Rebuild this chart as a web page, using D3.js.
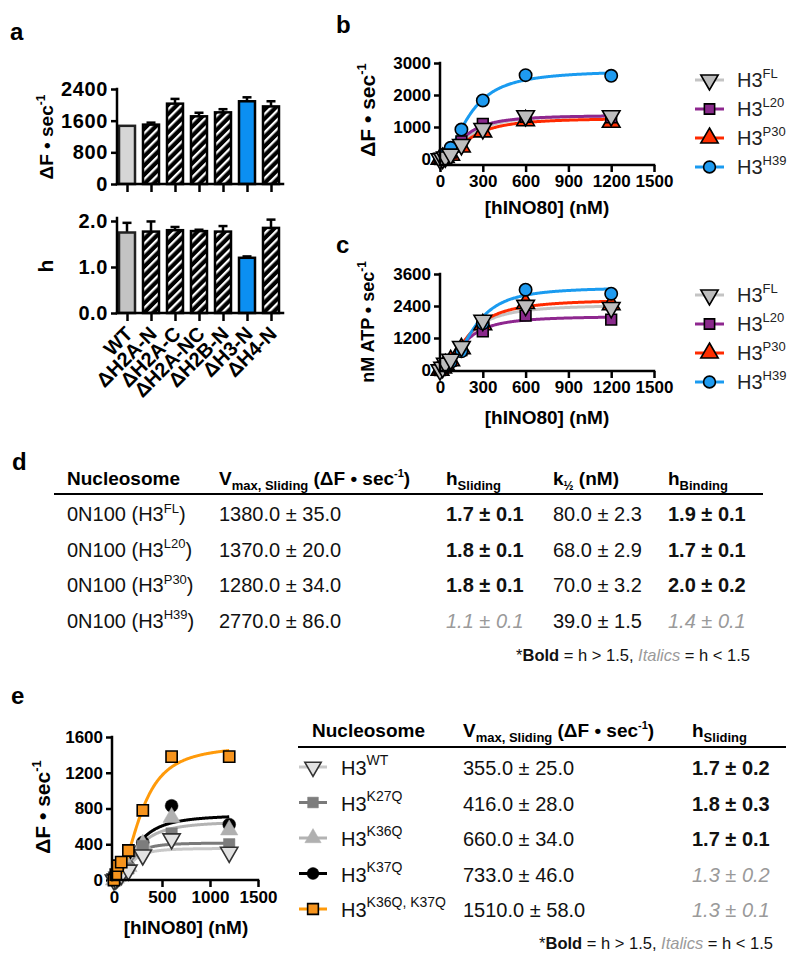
<!DOCTYPE html>
<html><head><meta charset="utf-8">
<script src="https://cdn.jsdelivr.net/npm/d3@7"></script>
<style>body{margin:0;background:#fff} svg{display:block} text{font-family:"Liberation Sans",Arial,sans-serif}</style>
</head><body><svg id="c" width="800" height="963"></svg>
<script>
// ---------- DATA ----------
// panel a
const catsA = ["WT","ΔH2A-N","ΔH2A-C","ΔH2A-NC","ΔH2B-N","ΔH3-N","ΔH4-N"];
const vmaxA = [1470,1500,2030,1710,1810,2090,1960];
const vmaxErrA = [0,50,120,90,80,100,130];
const hA = [1.75,1.77,1.80,1.78,1.77,1.20,1.85];
const hErrA = [0.21,0.22,0.07,0.03,0.12,0.03,0.18];
const styleA = ["wt","hatch","hatch","hatch","hatch","blue","hatch"];
const ticksAtop = [0,800,1600,2400];
const ticksAbot = [0,1,2];
// panels b, c
const conc = [0,18.75,37.5,75,150,300,600,1200];
const seriesBC = ["FL","L20","P30","H39"];
const bFL  = [0,20,60,150,450,950,1350,1350];
const bL20 = [0,30,80,200,550,1100,1320,1300];
const bP30 = [0,20,50,120,380,850,1200,1150];
const bH39 = [0,60,150,350,920,1830,2620,2600];
const cFL  = [0,100,250,400,880,1860,2420,2340];
const cL20 = [0,100,200,350,750,1450,2040,1890];
const cP30 = [0,80,200,350,800,1700,2500,2450];
const cH39 = [0,80,180,300,700,1750,3010,2860];
const fitB_V = [1380,1370,1280,2770], fitB_K = [195,170,210,209], fitB_h = [2,2,2,2];
const fitC_V = [2450,2020,2650,3100], fitC_K = [190,170,205,235], fitC_h = [2,2,2,2.4];
const ticksBx = [0,300,600,900,1200,1500];
const ticksBy = [0,1000,2000,3000];
const ticksCy = [0,1200,2400,3600];
// table d
const dSup = ["FL","L20","P30","H39"];
const dVmax = [1380,1370,1280,2770], dVmaxErr = [35,20,34,86];
const dHs = [1.7,1.8,1.8,1.1], dHsErr = [0.1,0.1,0.1,0.1];
const dK = [80,68,70,39], dKErr = [2.3,2.9,3.2,1.5];
const dHb = [1.9,1.7,2.0,1.4], dHbErr = [0.1,0.1,0.2,0.1];
// panel e
const eSup = ["WT","K27Q","K36Q","K37Q","K36Q, K37Q"];
const eWT   = [0,10,30,60,110,280,460,310];
const eK27Q = [0,20,40,70,130,380,520,400];
const eK36Q = [0,20,40,80,150,400,700,560];
const eK37Q = [0,20,40,80,150,420,830,620];
const eDbl  = [0,60,160,200,330,780,1380,1380];
const eVmax = [355,416,660,733,1510], eVmaxErr = [25,28,34,46,58];
const eH = [1.7,1.8,1.7,1.3,1.3], eHErr = [0.2,0.3,0.1,0.2,0.1];
const fitE_K = [170,170,230,230,285], fitE_h = [2.5,2.5,2,2,2.2];
const ticksEx = [0,500,1000,1500];
const ticksEy = [0,400,800,1200,1600];

// ---------- HELPERS ----------
const svg = d3.select("#c");
const AX = 2.5;
const fmtInt = d3.format("d");
function hill(V,K,h){ return x => V*Math.pow(x,h)/(Math.pow(K,h)+Math.pow(x,h)); }
function rich(g, x, y, parts, opt={}){
  const t = g.append("text").attr("x",x).attr("y",y)
    .attr("font-size",opt.size||16).attr("font-weight",opt.weight||"normal")
    .attr("fill",opt.fill||"#000").attr("text-anchor",opt.anchor||"start");
  if(opt.transform) t.attr("transform",opt.transform);
  let cur = 0;
  parts.forEach(p=>{
    if(typeof p==="string") p={t:p};
    const shift = p.sup ? -(p.shiftAmt||0.42)*(opt.size||16) : p.sub ? 0.28*(opt.size||16) : 0;
    const ts = t.append("tspan").text(p.t).attr("dy", shift-cur);
    cur = shift;
    if(p.size) ts.attr("font-size",p.size);
    if(p.weight) ts.attr("font-weight",p.weight);
    if(p.style) ts.attr("font-style",p.style);
    if(p.fill) ts.attr("fill",p.fill);
  });
  return t;
}
function panelLabel(t,x,y){ svg.append("text").attr("x",x).attr("y",y).attr("font-size",24).attr("font-weight","bold").text(t); }
function styleAxis(sel, fs){
  sel.select(".domain").remove();
  sel.selectAll(".tick line").attr("stroke","#000").attr("stroke-width",AX);
  sel.selectAll(".tick text").attr("font-size",fs).attr("font-weight","bold").attr("fill","#000")
     .attr("font-family","Liberation Sans, Arial, sans-serif");
}
function line(x1,y1,x2,y2,w){ svg.append("line").attr("x1",x1).attr("y1",y1).attr("x2",x2).attr("y2",y2).attr("stroke","#000").attr("stroke-width",w||AX).attr("stroke-linecap","square"); }
function marker(g, shape, x, y, fill, stroke, size, sw){
  const types = {circle:d3.symbolCircle, square:d3.symbolSquare, up:d3.symbolTriangle, down:d3.symbolTriangle};
  g.append("path").attr("d", d3.symbol().type(types[shape]).size(size)())
   .attr("transform",`translate(${x},${y})${shape==="down"?" rotate(180)":""}`)
   .attr("fill",fill).attr("stroke",stroke).attr("stroke-width",sw==null?1.6:sw);
}

// defs
const defs = svg.append("defs");
const pat = defs.append("pattern").attr("id","hatch").attr("patternUnits","userSpaceOnUse")
  .attr("width",6.5).attr("height",6.5).attr("patternTransform","rotate(45)");
pat.append("rect").attr("width",6.5).attr("height",6.5).attr("fill","#000");
pat.append("rect").attr("width",2.3).attr("height",6.5).attr("fill","#fff");

const BLUE = "#0b8ff2";

// ---------- PANEL a ----------
panelLabel("a",10,40);
const xA = d3.scalePoint().domain(catsA).range([127,271]);
const yAt = d3.scaleLinear().domain([0,2400]).range([184,89]);
const yAb = d3.scaleLinear().domain([0,2]).range([313,221]);
function barPanel(vals, errs, yS, ticks, fmt, wtFill, baseY, topY){
  const g = svg.append("g");
  const ya = g.append("g").attr("transform","translate(117,0)")
    .call(d3.axisLeft(yS).tickValues(ticks).tickSize(6).tickSizeOuter(0).tickPadding(3).tickFormat(fmt));
  styleAxis(ya, 20);
  ya.selectAll(".tick text").attr("letter-spacing",0.6);
  const xa = g.append("g").attr("transform",`translate(0,${baseY})`)
    .call(d3.axisBottom(xA).tickSize(8).tickSizeOuter(0).tickFormat(""));
  styleAxis(xa, 1);
  catsA.forEach((c,i)=>{
    const cx = xA(c), v = vals[i], e = errs[i];
    if(e>0){
      g.append("line").attr("x1",cx).attr("x2",cx).attr("y1",yS(v)).attr("y2",yS(v+e)).attr("stroke","#000").attr("stroke-width",2.5);
      g.append("line").attr("x1",cx-4.5).attr("x2",cx+4.5).attr("y1",yS(v+e)).attr("y2",yS(v+e)).attr("stroke","#000").attr("stroke-width",2.5);
    }
    const f = styleA[i]==="wt" ? wtFill : styleA[i]==="blue" ? BLUE : "url(#hatch)";
    g.append("rect").attr("x",cx-8).attr("y",yS(v)).attr("width",16).attr("height",yS(0)-yS(v))
      .attr("fill",f).attr("stroke",styleA[i]==="wt"?"#222":"#000").attr("stroke-width",2.5);
  });
  line(117,baseY,283,baseY);
  line(117,topY,117,baseY);
  return g;
}
barPanel(vmaxA, vmaxErrA, yAt, ticksAtop, fmtInt, "#d6d6d6", 184, 89);
barPanel(hA, hErrA, yAb, ticksAbot, d3.format(".1f"), "#c3c3c3", 313, 218);
rich(svg, 0, 0, [{t:"ΔF • sec"},{t:"-1",sup:true,size:12}], {size:19,weight:"bold",anchor:"middle",transform:"translate(53,137) rotate(-90)"});
svg.append("text").attr("transform","translate(53,266) rotate(-90)").attr("text-anchor","middle")
  .attr("font-size",21).attr("font-weight","bold").text("h");
catsA.forEach(c=>{
  const x = xA(c)+7, y = 335;
  svg.append("text").attr("x",x).attr("y",y).attr("text-anchor","end").attr("font-size",20).attr("font-weight","bold")
    .attr("transform",`rotate(-45,${x},${y})`).text(c);
});

// ---------- PANELS b, c ----------
const colBC = {FL:{line:"#c4c4c4",fill:"#bdbdbd",shape:"down"},
               L20:{line:"#8e278f",fill:"#8a2a8c",shape:"square"},
               P30:{line:"#ff2a00",fill:"#ff2f00",shape:"up"},
               H39:{line:"#1a9bf0",fill:"#1f9bf0",shape:"circle"}};
const xB = d3.scaleLinear().domain([0,1500]).range([440,654]);
function xyPanel(dataArrs, fitV, fitK, fitH, yS, yTicks, axisY, topY, ylabel, ylabSize, ylabX, ylabY, xlabY, legY, errs){
  const g = svg.append("g");
  const ya = g.append("g").attr("transform","translate(440,0)")
    .call(d3.axisLeft(yS).tickValues(yTicks).tickSize(6).tickSizeOuter(0).tickPadding(3).tickFormat(fmtInt));
  styleAxis(ya,17);
  const xa = g.append("g").attr("transform",`translate(0,${axisY})`)
    .call(d3.axisBottom(xB).tickValues(ticksBx).tickSize(7).tickSizeOuter(0).tickPadding(3).tickFormat(fmtInt));
  styleAxis(xa,17);
  line(440,topY,440,axisY); line(440,axisY,654,axisY);
  const xs = d3.range(0,1200.1,5);
  const ln = d3.line().x(d=>xB(d[0])).y(d=>yS(d[1]));
  [0,1,2,3].forEach(i=>{
    const f = hill(fitV[i],fitK[i],fitH[i]);
    g.append("path").attr("d",ln(xs.map(x=>[x,f(x)]))).attr("fill","none")
      .attr("stroke",colBC[seriesBC[i]].line).attr("stroke-width",3);
  });
  [2,1,3,0].forEach(i=>{
    const s = seriesBC[i], c = colBC[s];
    dataArrs[i].forEach((v,j)=>{
      if(errs && errs[i] && errs[i][j]){
        const e=errs[i][j];
        g.append("line").attr("x1",xB(conc[j])).attr("x2",xB(conc[j])).attr("y1",yS(v-e)).attr("y2",yS(v+e)).attr("stroke","#000").attr("stroke-width",1.5);
        [v-e,v+e].forEach(w=>g.append("line").attr("x1",xB(conc[j])-4).attr("x2",xB(conc[j])+4).attr("y1",yS(w)).attr("y2",yS(w)).attr("stroke","#000").attr("stroke-width",1.5));
      }
      marker(g, c.shape, xB(conc[j]), yS(v), c.fill, "#000", c.shape==="circle"?120:c.shape==="square"?115:135, 1.6);
    });
  });
  rich(svg,0,0,ylabel,{size:ylabSize,weight:"bold",anchor:"middle",transform:`translate(${ylabX},${ylabY}) rotate(-90)`});
  svg.append("text").attr("x",547).attr("y",xlabY).attr("text-anchor","middle").attr("font-size",19).attr("font-weight","bold").text("[hINO80] (nM)");
  seriesBC.forEach((s,i)=>{
    const y = legY + i*29, c = colBC[s];
    svg.append("line").attr("x1",695).attr("x2",724).attr("y1",y).attr("y2",y).attr("stroke",c.line).attr("stroke-width",3);
    marker(svg, c.shape, 709.5, y, c.fill, "#000", c.shape==="circle"?110:c.shape==="square"?105:130, 1.6);
    rich(svg,737,y+7,[{t:"H3"},{t:s,sup:true,size:13,shiftAmt:0.45}],{size:20,fill:"#222"});
  });
}
panelLabel("b",336,33);
const yB = d3.scaleLinear().domain([0,3000]).range([159,63]);
xyPanel([bFL,bL20,bP30,bH39], fitB_V, fitB_K, fitB_h, yB, ticksBy, 165, 63,
  [{t:"ΔF • sec"},{t:"-1",sup:true,size:13}], 21, 375, 110, 214, 80, [null,null,null,[0,0,0,0,80,130,0,0]]);
panelLabel("c",336,253);
const yC = d3.scaleLinear().domain([0,3600]).range([370,274]);
xyPanel([cFL,cL20,cP30,cH39], fitC_V, fitC_K, fitC_h, yC, ticksCy, 371, 274,
  [{t:"nM ATP • sec"},{t:"-1",sup:true,size:12}], 18, 374, 322, 424, 295, null);

// ---------- TABLE d ----------
panelLabel("d",12,470);
const fx = v=>v.toFixed(1);
const dCols = [67,219,446,553,668];
const HS = 19;
rich(svg,dCols[0],485,["Nucleosome"],{size:HS,weight:"bold"});
rich(svg,dCols[1],485,[{t:"V"},{t:"max, Sliding",sub:true,size:13},{t:" (ΔF • sec"},{t:"-1",sup:true,size:11},{t:")"}],{size:HS,weight:"bold"});
rich(svg,dCols[2],485,[{t:"h"},{t:"Sliding",sub:true,size:13}],{size:HS,weight:"bold"});
rich(svg,dCols[3],485,[{t:"k"},{t:"½",sub:true,size:12},{t:" (nM)"}],{size:HS,weight:"bold"});
rich(svg,dCols[4],485,[{t:"h"},{t:"Binding",sub:true,size:13}],{size:HS,weight:"bold"});
line(55,494,762,494,2);
const BS = 20, GREY="#9a9a9a";
function hCell(v,e){ return v>1.5 ? {t:`${fx(v)} ± ${fx(e)}`,weight:"bold"} : {t:`${fx(v)} ± ${fx(e)}`,style:"italic",fill:GREY}; }
dSup.forEach((s,i)=>{
  const y = 521 + i*35.5;
  rich(svg,dCols[0],y,[{t:"0N100 (H3"},{t:s,sup:true,size:13},{t:")"}],{size:BS,fill:"#111"});
  rich(svg,dCols[1],y,[`${fx(dVmax[i])} ± ${fx(dVmaxErr[i])}`],{size:BS,fill:"#111"});
  rich(svg,dCols[2],y,[hCell(dHs[i],dHsErr[i])],{size:BS,fill:"#111"});
  rich(svg,dCols[3],y,[`${fx(dK[i])} ± ${fx(dKErr[i])}`],{size:BS,fill:"#111"});
  rich(svg,dCols[4],y,[hCell(dHb[i],dHbErr[i])],{size:BS,fill:"#111"});
});
const foot = [{t:"*"},{t:"Bold",weight:"bold"},{t:" = h > 1.5, "},{t:"Italics",style:"italic",fill:GREY},{t:" = h < 1.5"}];
rich(svg,750,661,foot,{size:16.5,anchor:"end",fill:"#111"});

// ---------- PANEL e ----------
panelLabel("e",11,704);
const eData = [eWT,eK27Q,eK36Q,eK37Q,eDbl];
const eSty = [{line:"#c8c8c8",fill:"#e2e2e2",stroke:"#333",shape:"down",sw:1.6},
              {line:"#7a7a7a",fill:"#7d7d7d",stroke:"#7d7d7d",shape:"square",sw:0.5},
              {line:"#b3b3b3",fill:"#b0b0b0",stroke:"#b0b0b0",shape:"up",sw:0.5},
              {line:"#000",fill:"#000",stroke:"#000",shape:"circle",sw:0.5},
              {line:"#ff9a0a",fill:"#f7941d",stroke:"#000",shape:"square",sw:1.6}];
const xE = d3.scaleLinear().domain([0,1500]).range([114,258]);
const yE = d3.scaleLinear().domain([0,1600]).range([880,737]);
{
  const g = svg.append("g");
  const ya = g.append("g").attr("transform","translate(112,0)")
    .call(d3.axisLeft(yE).tickValues(ticksEy).tickSize(6).tickSizeOuter(0).tickPadding(3).tickFormat(fmtInt));
  styleAxis(ya,17);
  const xa = g.append("g").attr("transform","translate(0,880)")
    .call(d3.axisBottom(xE).tickValues(ticksEx).tickSize(7).tickSizeOuter(0).tickPadding(4).tickFormat(fmtInt));
  styleAxis(xa,17);
  line(112,737,112,880); line(112,880,258,880);
  const xs = d3.range(0,1200.1,5);
  const ln = d3.line().x(d=>xE(d[0])).y(d=>yE(d[1]));
  [0,1,2,3].forEach(i=>{
    const f = hill(eVmax[i],fitE_K[i],fitE_h[i]);
    g.append("path").attr("d",ln(xs.map(x=>[x,f(x)]))).attr("fill","none").attr("stroke",eSty[i].line).attr("stroke-width",3);
  });
  [3,2,1,0].forEach(i=>{
    eData[i].forEach((v,j)=>marker(g,eSty[i].shape,xE(conc[j]),yE(v),eSty[i].fill,eSty[i].stroke,130,eSty[i].sw));
  });
  const f4 = hill(eVmax[4],fitE_K[4],fitE_h[4]);
  g.append("path").attr("d",ln(xs.map(x=>[x,f4(x)]))).attr("fill","none").attr("stroke",eSty[4].line).attr("stroke-width",3);
  eData[4].forEach((v,j)=>marker(g,"square",xE(conc[j]),yE(v),eSty[4].fill,"#000",125,1.6));
  rich(svg,0,0,[{t:"ΔF • sec"},{t:"-1",sup:true,size:13}],{size:21,weight:"bold",anchor:"middle",transform:"translate(50,807) rotate(-90)"});
  svg.append("text").attr("x",186).attr("y",934).attr("text-anchor","middle").attr("font-size",19).attr("font-weight","bold").text("[hINO80] (nM)");
}
// table e
rich(svg,312,737,["Nucleosome"],{size:HS,weight:"bold"});
rich(svg,463,737,[{t:"V"},{t:"max, Sliding",sub:true,size:13},{t:" (ΔF • sec"},{t:"-1",sup:true,size:11},{t:")"}],{size:HS,weight:"bold"});
rich(svg,692,737,[{t:"h"},{t:"Sliding",sub:true,size:13}],{size:HS,weight:"bold"});
line(299,747,785,747,2);
eSup.forEach((s,i)=>{
  const y = 767 + i*35.5, st = eSty[i];
  svg.append("line").attr("x1",299).attr("x2",327).attr("y1",y).attr("y2",y).attr("stroke",st.line).attr("stroke-width",3);
  marker(svg,st.shape,313,y,st.fill,st.stroke,st.shape==="circle"?110:115,st.sw);
  rich(svg,341,y+8,[{t:"H3"},{t:s,sup:true,size:14,shiftAmt:0.5}],{size:20,fill:"#111"});
  rich(svg,463,y+8,[`${fx(eVmax[i])} ± ${fx(eVmaxErr[i])}`],{size:20,fill:"#111"});
  rich(svg,692,y+8,[hCell(eH[i],eHErr[i])],{size:20,fill:"#111"});
});
rich(svg,773,949,foot,{size:16.5,anchor:"end",fill:"#111"});
</script></body></html>
